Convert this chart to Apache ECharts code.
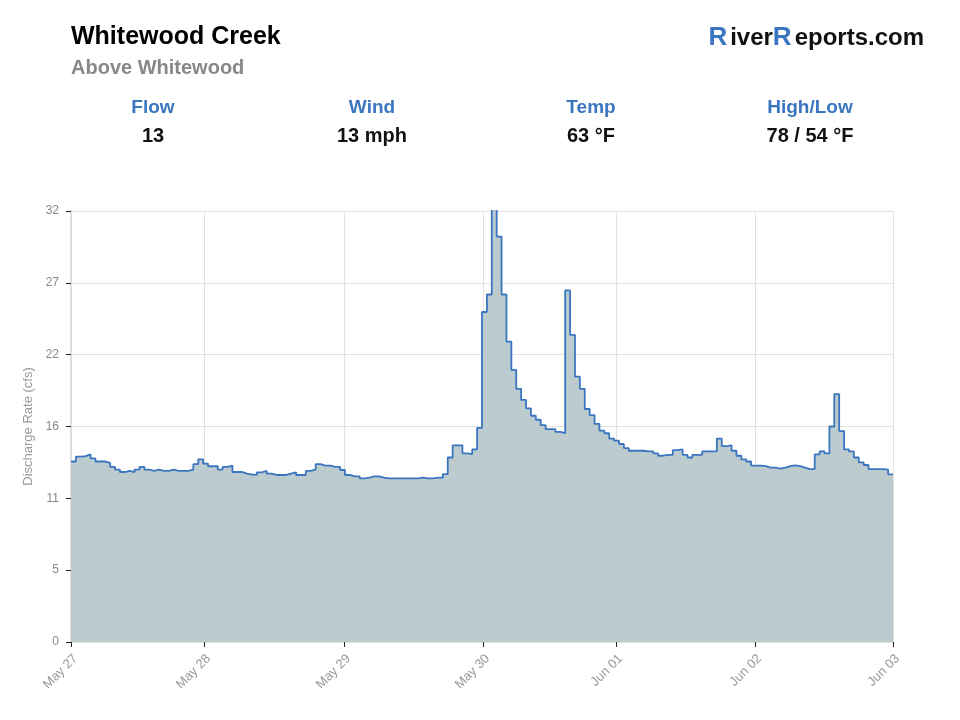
<!DOCTYPE html>
<html>
<head>
<meta charset="utf-8">
<script src="https://cdn.jsdelivr.net/npm/echarts@6/dist/echarts.min.js"></script>
<style>
  html, body { margin: 0; padding: 0; background: #fff; }
  #chart { width: 960px; height: 720px; }
</style>
</head>
<body>
<div id="chart"></div>
<script>
// hourly discharge (cfs)
const flow = [
  13.4, 13.76, 13.8, 13.93, 13.63, 13.4, 13.4, 13.3, 13.0, 12.8,
  12.62, 12.7, 12.62, 12.8, 13.0, 12.8, 12.7, 12.8, 12.7, 12.7,
  12.8, 12.7, 12.7, 12.7, 12.8, 13.2, 13.56, 13.25, 13.05, 13.05,
  12.8, 13.0, 13.1, 12.62, 12.62, 12.5, 12.42, 12.42, 12.6, 12.7,
  12.5, 12.4, 12.4, 12.4, 12.5, 12.6, 12.4, 12.4, 12.7, 12.8,
  13.2, 13.1, 13.1, 13.0, 13.0, 12.77, 12.4, 12.3, 12.3, 12.15,
  12.2, 12.3, 12.3, 12.2, 12.15, 12.15, 12.15, 12.15, 12.15, 12.15,
  12.15, 12.2, 12.15, 12.15, 12.2, 12.2, 12.47, 13.7, 14.6, 14.6,
  14.0, 13.95, 14.3, 15.9, 24.5, 25.8, 33.5, 30.1, 25.8, 22.3,
  20.2, 18.8, 17.97, 17.35, 16.8, 16.5, 16.1, 15.8, 15.8, 15.6,
  15.5, 26.1, 22.8, 19.7, 18.8, 17.3, 16.85, 16.2, 15.7, 15.5,
  15.1, 14.95, 14.7, 14.4, 14.2, 14.2, 14.2, 14.15, 14.15, 14.0,
  13.83, 13.9, 13.9, 14.25, 14.3, 13.9, 13.7, 13.9, 13.9, 14.15,
  14.15, 14.15, 15.1, 14.55, 14.6, 14.2, 13.83, 13.56, 13.4, 13.1,
  13.1, 13.05, 12.95, 12.95, 12.87, 12.95, 13.05, 13.12, 13.05, 12.95,
  12.84, 12.84, 13.93, 14.15, 14.0, 16.0, 18.4, 15.66, 14.3, 14.15,
  13.7, 13.34, 13.14, 12.84, 12.84, 12.84, 12.8, 12.45
];
// day ticks, in hours from the first reading
const dayTicks = [0, 27.2, 55.8, 84.2, 111.4, 139.8, 168];
const dayLabels = ['May 27', 'May 28', 'May 29', 'May 30', 'Jun 01', 'Jun 02', 'Jun 03'];
const yLabels = ['0', '5', '11', '16', '22', '27', '32'];
const statNames = ['Flow', 'Wind', 'Temp', 'High/Low'];
const statValues = ['13', '13 mph', '63 °F', '78 / 54 °F'];

const FONT = '"Liberation Sans", Arial, sans-serif';
const yStep = 32 / 6;

// step 'end' needs one closing point so the last hour gets its width
const points = flow.map((v, i) => [i, v]);
points.push([flow.length, flow[flow.length - 1]]);

const statGraphics = [];
statNames.forEach((name, i) => {
  const cx = 153 + i * 219;
  statGraphics.push({
    type: 'text', x: cx, y: 108,
    style: { text: name, fill: '#3a75bf', font: 'bold 19px ' + FONT, align: 'center', verticalAlign: 'middle' }
  });
  statGraphics.push({
    type: 'text', x: cx, y: 136,
    style: { text: statValues[i], fill: '#111', font: 'bold 20px ' + FONT, align: 'center', verticalAlign: 'middle' }
  });
});

const chart = echarts.init(document.getElementById('chart'));

chart.setOption({
  backgroundColor: '#fff',
  animation: false,
  title: [
    {
      text: 'Whitewood Creek',
      subtext: 'Above Whitewood',
      left: 66, top: 20,
      itemGap: 8,
      textStyle: { fontFamily: FONT, fontSize: 25, fontWeight: 'bold', color: '#000' },
      subtextStyle: { fontFamily: FONT, fontSize: 20, fontWeight: 'bold', color: '#888' }
    },
    {
      text: '{r|R}{t|iver}{r|R}{t|eports.com}',
      right: 31, top: 20,
      textStyle: {
        rich: {
          r: { fontFamily: FONT, fontSize: 26, fontWeight: 'bold', color: '#3a75bf', padding: [0, 3, 0, 0] },
          t: { fontFamily: FONT, fontSize: 24, fontWeight: 'bold', color: '#111' }
        }
      }
    }
  ],
  graphic: statGraphics,
  grid: { left: 71, right: 67, top: 211, bottom: 78 },
  xAxis: {
    type: 'value',
    min: 0,
    max: flow.length,
    axisLine: { lineStyle: { color: '#ddd', width: 2 } },
    axisTick: { show: true, length: 5, customValues: dayTicks, lineStyle: { color: '#222' } },
    splitLine: { show: true, lineStyle: { color: '#e2e2e2' } },
    axisLabel: {
      customValues: dayTicks,
      rotate: 45,
      verticalAlign: 'top',
      color: '#999',
      fontFamily: FONT,
      fontSize: 13,
      margin: 10,
      formatter: v => dayLabels[dayTicks.indexOf(v)] || ''
    }
  },
  yAxis: {
    type: 'value',
    min: 0,
    max: 32,
    interval: yStep,
    name: 'Discharge Rate (cfs)',
    nameLocation: 'middle',
    nameGap: 32,
    nameTextStyle: { color: '#999', fontFamily: FONT, fontSize: 13 },
    axisLine: { show: true, lineStyle: { color: '#ddd', width: 2 } },
    axisTick: { show: true, length: 5, lineStyle: { color: '#222' } },
    splitLine: { show: true, lineStyle: { color: '#e2e2e2' } },
    axisLabel: {
      color: '#888',
      fontFamily: FONT,
      fontSize: 12,
      margin: 12,
      formatter: v => yLabels[Math.round(v / yStep)] || ''
    }
  },
  series: [{
    type: 'line',
    step: 'end',
    data: points,
    symbol: 'none',
    clip: true,
    lineStyle: { color: '#3a75bf', width: 1.8 },
    areaStyle: { color: '#bccbce', opacity: 1 }
  }]
});
</script>
</body>
</html>
